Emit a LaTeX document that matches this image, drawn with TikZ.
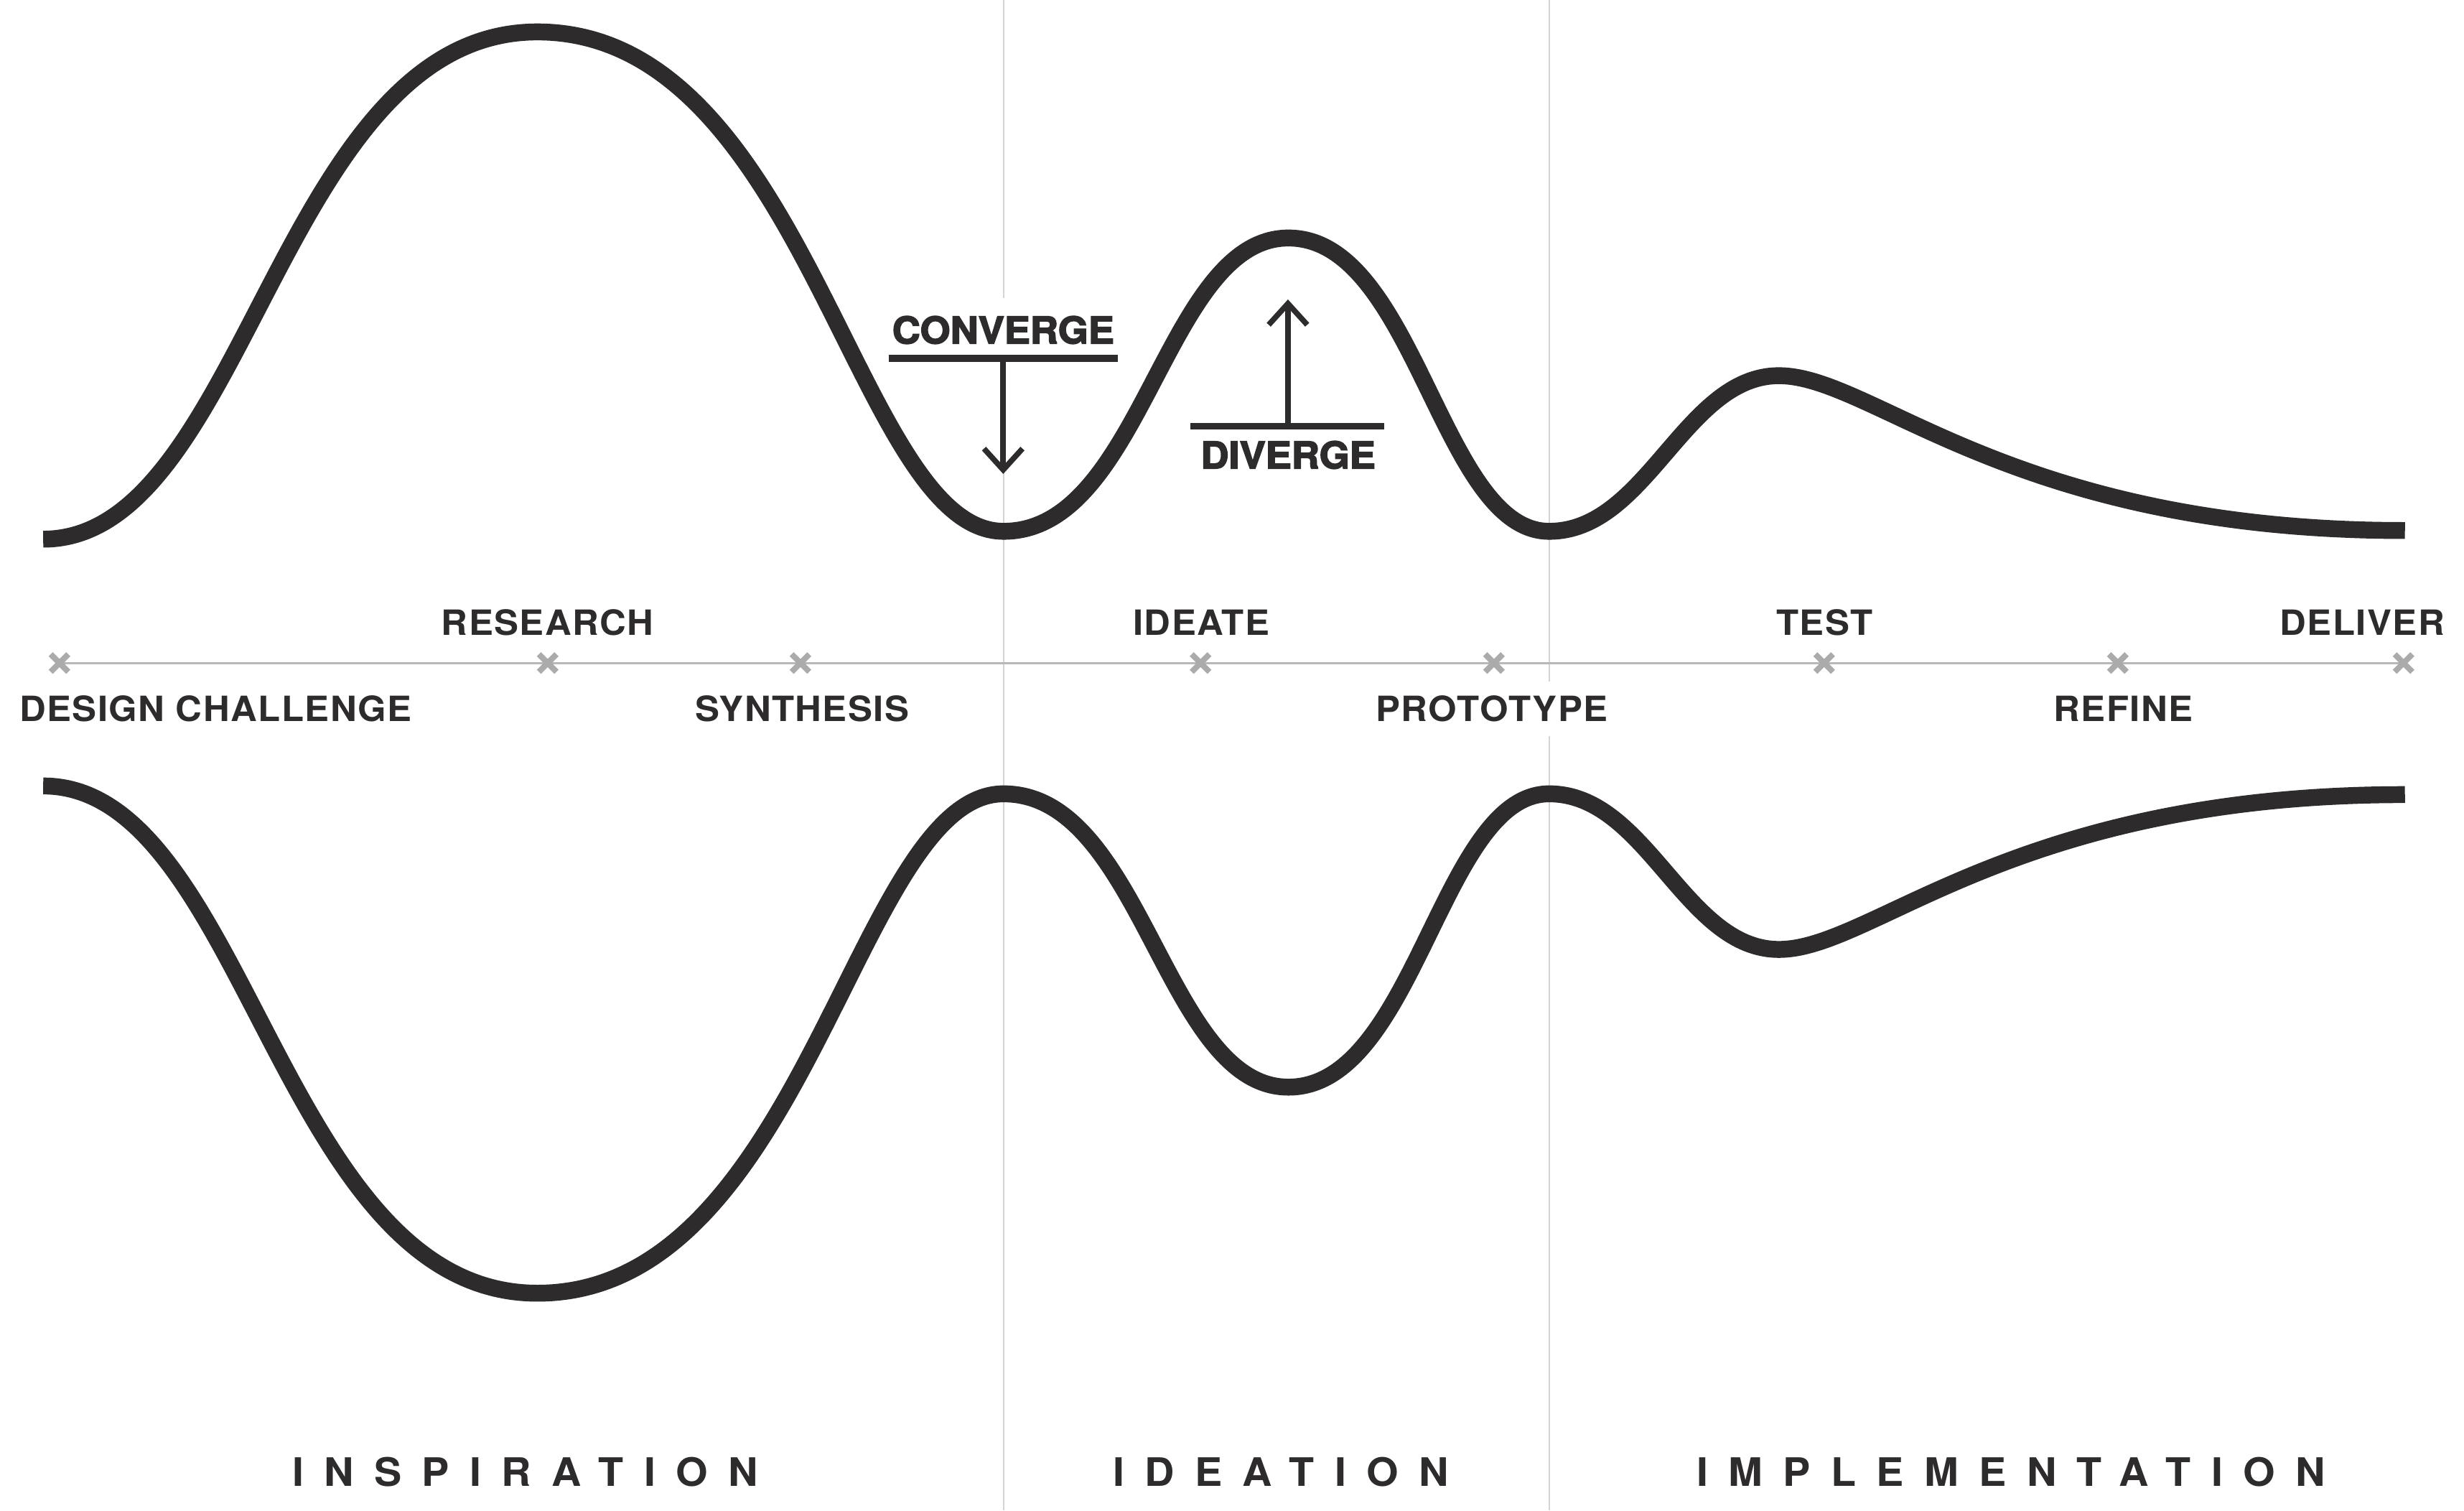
\documentclass[tikz,border=0pt]{standalone}
\usepackage{fontspec}
\setmainfont{TeX Gyre Heros}
\newfontfamily\steplabelfont{TeX Gyre Heros}[FakeStretch=1.05,LetterSpace=3]
\newfontfamily\phasefont{TeX Gyre Heros}[FakeStretch=1.05,LetterSpace=52]
\newfontfamily\turnfont{TeX Gyre Heros}[FakeStretch=1.05,FakeBold=3]
\usepackage{tikz}
\usetikzlibrary{arrows.meta}
\definecolor{waveink}{HTML}{2E2B2C}
\definecolor{crossgray}{HTML}{ABABAB}
\definecolor{axisgray}{HTML}{B8B8B8}
\definecolor{guidegray}{HTML}{D4D4D4}
% one half of the double diamond, y measured from the timeline
\newcommand{\processwave}{%
  \draw[wave] (27.5,-78.5)
    .. controls (156.4,-78.5) and (178.5,-401.2) .. (342,-401.2)
    .. controls (512.5,-401.2) and (545,-83.5) .. (638.6,-83.5)
    .. controls (726.9,-83.5) and (741.4,-270.1) .. (819.9,-270.1)
    .. controls (900.5,-270.1) and (917.1,-83.5) .. (985.8,-83.5)
    .. controls (1048,-83.5) and (1072,-182.5) .. (1132,-182.5)
    .. controls (1192,-182.5) and (1280,-84) .. (1530.4,-84);}

\begin{document}
\begin{tikzpicture}[x=0.02cm,y=-0.02cm,>={Straight Barb[length=2.7mm,width=4.9mm]},
  wave/.style={line width=6.1pt,waveink},
  guide/.style={line width=0.45pt,guidegray},
  axisline/.style={line width=0.75pt,axisgray},
  crossmark/.style={line width=2.1pt,crossgray},
  steplabel/.style={font=\steplabelfont\bfseries\fontsize{12.6}{15}\selectfont,text=waveink,
    fill=white,inner xsep=0.06cm,inner ysep=0.18cm,anchor=base},
  turnlabel/.style={font=\turnfont\bfseries\fontsize{13.4}{16}\selectfont,text=waveink,
    fill=white,inner xsep=0.05cm,inner ysep=0.226cm,anchor=base},
  turnbar/.style={line width=2.4pt,waveink},
  turnarrow/.style={->,line width=2pt,waveink},
  phaselabel/.style={font=\phasefont\bfseries\fontsize{14.2}{17}\selectfont,text=waveink,
    inner sep=0pt,anchor=base west}]
  \useasboundingbox (0,0) rectangle (1568,961);

  % phase guides
  \draw[guide] (638.6,0) -- (638.6,961);
  \draw[guide] (985.8,0) -- (985.8,961);

  % upper curve and its mirror image
  \begin{scope}[shift={(0,421.5)}]
    \processwave
    \begin{scope}[yscale=-1]
      \processwave
    \end{scope}
  \end{scope}

  % timeline with crosses
  \foreach \n/\x in {design/37.9,research/348.5,synthesis/509.4,ideate/764,
                     prototype/950.7,test/1160.8,refine/1347.7,deliver/1529.5}
    \coordinate (\n) at (\x,421.8);
  \draw[axisline] (design) -- (deliver);
  \foreach \n in {design,research,synthesis,ideate,prototype,test,refine,deliver}
    \draw[crossmark] (\n) ++(-5.6,-5.6) -- ++(11.2,11.2) (\n) ++(-5.6,5.6) -- ++(11.2,-11.2);

  \node[steplabel] (researchLabel) at (348.5,404.3) {RESEARCH};
  \node[steplabel] (ideateLabel) at (764.4,404.3) {IDEATE};
  \node[steplabel] (testLabel) at (1161,404.3) {TEST};
  \node[steplabel] (deliverLabel) at (1503.3,404.3) {DELIVER};
  \node[steplabel] (designLabel) at (137.3,459) {DESIGN CHALLENGE};
  \node[steplabel] (synthesisLabel) at (510.5,459) {SYNTHESIS};
  \node[steplabel] (prototypeLabel) at (949.4,459) {PROTOTYPE};
  \node[steplabel] (refineLabel) at (1351.3,459) {REFINE};

  % converge / diverge markers
  \node[turnlabel] (converge) at (638.4,218.5) {CONVERGE};
  \coordinate (convergeL) at (565.5,228);
  \coordinate (convergeR) at (711.3,228);
  \coordinate (convergeBar) at (638.4,228);
  \coordinate (convergeTip) at (638.4,301.5);
  \draw[turnbar] (convergeL) -- (convergeR);
  \draw[turnarrow] (convergeBar) -- (convergeTip);

  \node[turnlabel] (diverge) at (819.7,298) {DIVERGE};
  \coordinate (divergeL) at (757.5,271);
  \coordinate (divergeR) at (881,271);
  \coordinate (divergeBar) at (819.6,271);
  \coordinate (divergeTip) at (819.6,190.5);
  \draw[turnbar] (divergeL) -- (divergeR);
  \draw[turnarrow] (divergeBar) -- (divergeTip);

  % phase names
  \node[phaselabel] (inspiration) at (185.6,945.7) {INSPIRATION};
  \node[phaselabel] (ideation) at (707.8,945.7) {IDEATION};
  \node[phaselabel] (implementation) at (1079.3,945.7) {IMPLEMENTATION};
\end{tikzpicture}
\end{document}
